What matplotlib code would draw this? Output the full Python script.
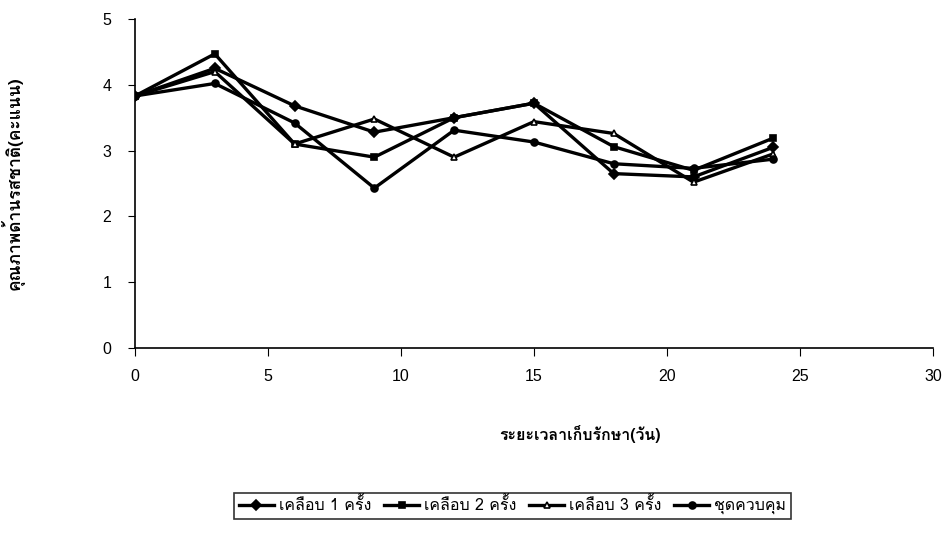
import matplotlib
matplotlib.use("Agg")
import matplotlib.pyplot as plt
from matplotlib import font_manager
from matplotlib.ft2font import FT2Font

days = [0, 3, 6, 9, 12, 15, 18, 21, 24]
coat1 = [3.83, 4.25, 3.68, 3.28, 3.50, 3.72, 2.65, 2.60, 3.05]
coat2 = [3.83, 4.47, 3.10, 2.90, 3.50, 3.72, 3.06, 2.70, 3.19]
coat3 = [3.83, 4.20, 3.10, 3.48, 2.90, 3.44, 3.26, 2.52, 2.95]
control = [3.83, 4.02, 3.42, 2.43, 3.31, 3.13, 2.80, 2.73, 2.87]
labels = ["เคลือบ 1 ครั้ง", "เคลือบ 2 ครั้ง", "เคลือบ 3 ครั้ง", "ชุดควบคุม"]
xlabel = "ระยะเวลาเก็บรักษา(วัน)"
ylabel = "คุณภาพด้านรสชาติ(คะแนน)"


def thai_font():
    # look for any installed font that has Thai glyphs
    for f in font_manager.fontManager.ttflist:
        try:
            if ord("ก") in FT2Font(f.fname).get_charmap():
                return f.name
        except Exception:
            pass
    return None


tf = thai_font()
fams = ([tf] if tf else []) + ["Liberation Sans", "DejaVu Sans"]

fig = plt.figure(figsize=(9.42, 5.6), dpi=100)
ax = fig.add_axes([0.1433, 0.3786, 0.847, 0.5875])

series = [coat1, coat2, coat3, control]
markers = ["D", "s", "^", "o"]
faces = ["black", "black", "white", "black"]
for vals, m, fc, lab in zip(series, markers, faces, labels):
    ax.plot(days, vals, color="black", lw=2.4, marker=m, ms=5,
            mfc=fc, mec="black", mew=1.2, label=lab)

ax.set_xlim(0, 30)
ax.set_ylim(0, 5)
ax.set_xticks(range(0, 31, 5))
ax.set_yticks(range(0, 6))
for s in ["top", "right"]:
    ax.spines[s].set_visible(False)
ax.spines["left"].set_linewidth(1.2)
ax.spines["bottom"].set_linewidth(1.2)
ax.tick_params(axis="x", direction="out", length=6, pad=9, labelsize=11.5)
ax.tick_params(axis="y", direction="out", length=5, pad=12, labelsize=11.5)
for t in ax.get_xticklabels() + ax.get_yticklabels():
    t.set_family(["Liberation Sans", "DejaVu Sans"])

ax.set_xlabel(xlabel, family=fams, fontsize=11.5, fontweight="bold")
ax.set_ylabel(ylabel, family=fams, fontsize=12.5, fontweight="bold")
ax.xaxis.set_label_coords(0.558, -0.235)
ax.yaxis.set_label_coords(-0.138, 0.5)

leg = ax.legend(loc="upper center", bbox_to_anchor=(0.473, -0.415), ncol=4,
                frameon=True, fancybox=False, edgecolor="black",
                prop={"family": fams, "size": 11.5}, handlelength=2.2,
                handletextpad=0.3, columnspacing=0.8, borderpad=0.3)
leg.get_frame().set_linewidth(1.2)

fig.savefig("out.png", dpi=100)
